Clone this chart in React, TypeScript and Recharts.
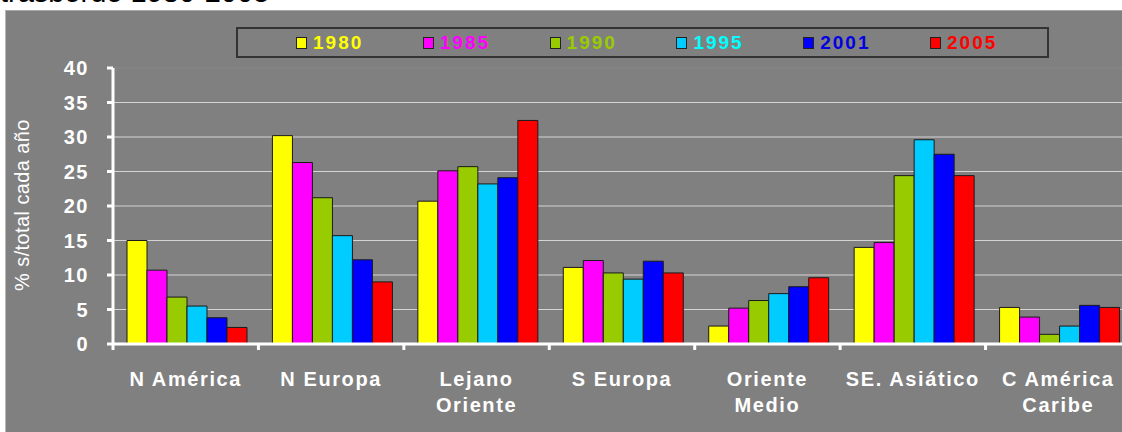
import React from 'react';
import { BarChart, Bar, XAxis, YAxis, CartesianGrid, ReferenceLine, Legend } from 'recharts';

const categories = ['N América', 'N Europa', 'Lejano\nOriente', 'S Europa', 'Oriente\nMedio', 'SE. Asiático', 'C América\nCaribe'];
const years = ['1980', '1985', '1990', '1995', '2001', '2005'];

const v1980 = [15.0, 30.2, 20.7, 11.1, 2.6, 14.0, 5.3];
const v1985 = [10.7, 26.3, 25.1, 12.1, 5.2, 14.7, 3.9];
const v1990 = [6.8, 21.2, 25.7, 10.3, 6.3, 24.4, 1.4];
const v1995 = [5.5, 15.7, 23.2, 9.4, 7.3, 29.6, 2.6];
const v2001 = [3.8, 12.2, 24.1, 12.0, 8.3, 27.5, 5.6];
const v2005 = [2.4, 9.0, 32.4, 10.3, 9.6, 24.4, 5.3];

const yTicks = [0, 5, 10, 15, 20, 25, 30, 35, 40];

const barColors = ['#FFFF00', '#FF00FF', '#99CC00', '#00CCFF', '#0000FF', '#FF0000'];
const legendTextColors = ['#FFFF00', '#FF00FF', '#99CC00', '#00FFFF', '#0000E0', '#FF0000'];

const seriesValues = [v1980, v1985, v1990, v1995, v2001, v2005];
const data = categories.map((name, i) => {
  const row: Record<string, string | number> = { name };
  years.forEach((y, j) => {
    row['y' + y] = seriesValues[j][i];
  });
  return row;
});

const FONT = 'Arial, "Liberation Sans", sans-serif';

const CategoryTick = (props: any) => {
  const { x, y, payload, index } = props;
  const half = payload && payload.offset ? payload.offset : 72.7;
  const lines = String(payload.value).split('\n');
  return (
    <g>
      <line x1={x - half} x2={x - half} y1={y - 6} y2={y} stroke="#fff" strokeWidth={3} />
      {index === categories.length - 1 && (
        <line x1={x + half} x2={x + half} y1={y - 6} y2={y} stroke="#fff" strokeWidth={3} />
      )}
      <text x={x} y={y} textAnchor="middle" fill="#fff" fontFamily={FONT} fontWeight="bold" fontSize={20} letterSpacing={1.6}>
        {lines.map((l, i) => (
          <tspan key={i} x={x} dy={i === 0 ? 36 : 26}>
            {l}
          </tspan>
        ))}
      </text>
    </g>
  );
};

const renderLegend = (props: any) => {
  const { payload } = props;
  return (
    <div
      style={{
        width: 809,
        height: 27,
        border: '2px solid #333',
        background: '#808080',
        position: 'relative',
        fontFamily: FONT,
      }}
    >
      {(payload || []).map((entry: any, i: number) => (
        <div
          key={entry.value}
          style={{ position: 'absolute', left: 58 + i * 126.8, top: 0, height: 27, display: 'flex', alignItems: 'center' }}
        >
          <span
            style={{
              display: 'inline-block',
              width: 9,
              height: 10,
              background: entry.color,
              border: '1px solid #222',
              marginRight: 6,
            }}
          />
          <span style={{ color: legendTextColors[i], fontWeight: 'bold', fontSize: 19, letterSpacing: 2, lineHeight: '27px' }}>
            {entry.value}
          </span>
        </div>
      ))}
    </div>
  );
};

export default function App() {
  return (
    <div style={{ position: 'absolute', left: 0, top: 0, width: 1122, height: 432, overflow: 'hidden', background: '#fff' }}>
      <div
        style={{
          position: 'absolute',
          left: 0,
          top: -22,
          fontFamily: FONT,
          fontSize: 29,
          lineHeight: '29px',
          color: '#000',
          whiteSpace: 'nowrap',
        }}
      >
        trasbordo 1980-2005
      </div>
      <div
        style={{
          position: 'absolute',
          left: 5,
          top: 10,
          width: 1130,
          height: 430,
          background: '#808080',
          borderTop: '1px solid #a8a8a8',
          borderLeft: '1px solid #b8b8b8',
        }}
      />
      <div style={{ position: 'absolute', left: 0, top: 0 }}>
        <BarChart
          width={1140}
          height={432}
          data={data}
          margin={{ top: 68, right: 9, bottom: 28, left: 13 }}
          barCategoryGap={14}
          barGap={0}
        >
          <CartesianGrid horizontal vertical={false} stroke="#d4d4d4" strokeWidth={1} horizontalValues={[5, 10, 15, 20, 25, 30, 35]} />
          <ReferenceLine y={40} stroke="#888888" strokeWidth={1} />
          <XAxis
            dataKey="name"
            interval={0}
            height={60}
            tickLine={false}
            tickSize={6}
            tickMargin={0}
            axisLine={{ stroke: '#fff', strokeWidth: 3 }}
            tick={<CategoryTick />}
          />
          <YAxis
            width={100}
            domain={[0, 40]}
            ticks={yTicks}
            interval={0}
            tickSize={6}
            tickMargin={18}
            axisLine={{ stroke: '#fff', strokeWidth: 3 }}
            tickLine={{ stroke: '#fff', strokeWidth: 3 }}
            tick={{ fill: '#fff', fontSize: 20, fontWeight: 'bold', fontFamily: FONT, letterSpacing: 1.5 }}
            label={{
              content: () => (
                <text
                  x={29}
                  y={205}
                  transform="rotate(-90 29 205)"
                  textAnchor="middle"
                  fill="#fff"
                  fontFamily={FONT}
                  fontSize={20}
                  letterSpacing={0.4}
                >
                  % s/total cada año
                </text>
              ),
            }}
          />
          <Legend
            layout="horizontal"
            verticalAlign="middle"
            align="center"
            content={renderLegend}
            wrapperStyle={{ left: 236, top: 27, width: 813, height: 31 }}
          />
          {years.map((y, i) => (
            <Bar
              key={y}
              dataKey={'y' + y}
              name={y}
              fill={barColors[i]}
              stroke="#1a1a1a"
              strokeWidth={1}
              isAnimationActive={false}
            />
          ))}
        </BarChart>
      </div>
    </div>
  );
}
